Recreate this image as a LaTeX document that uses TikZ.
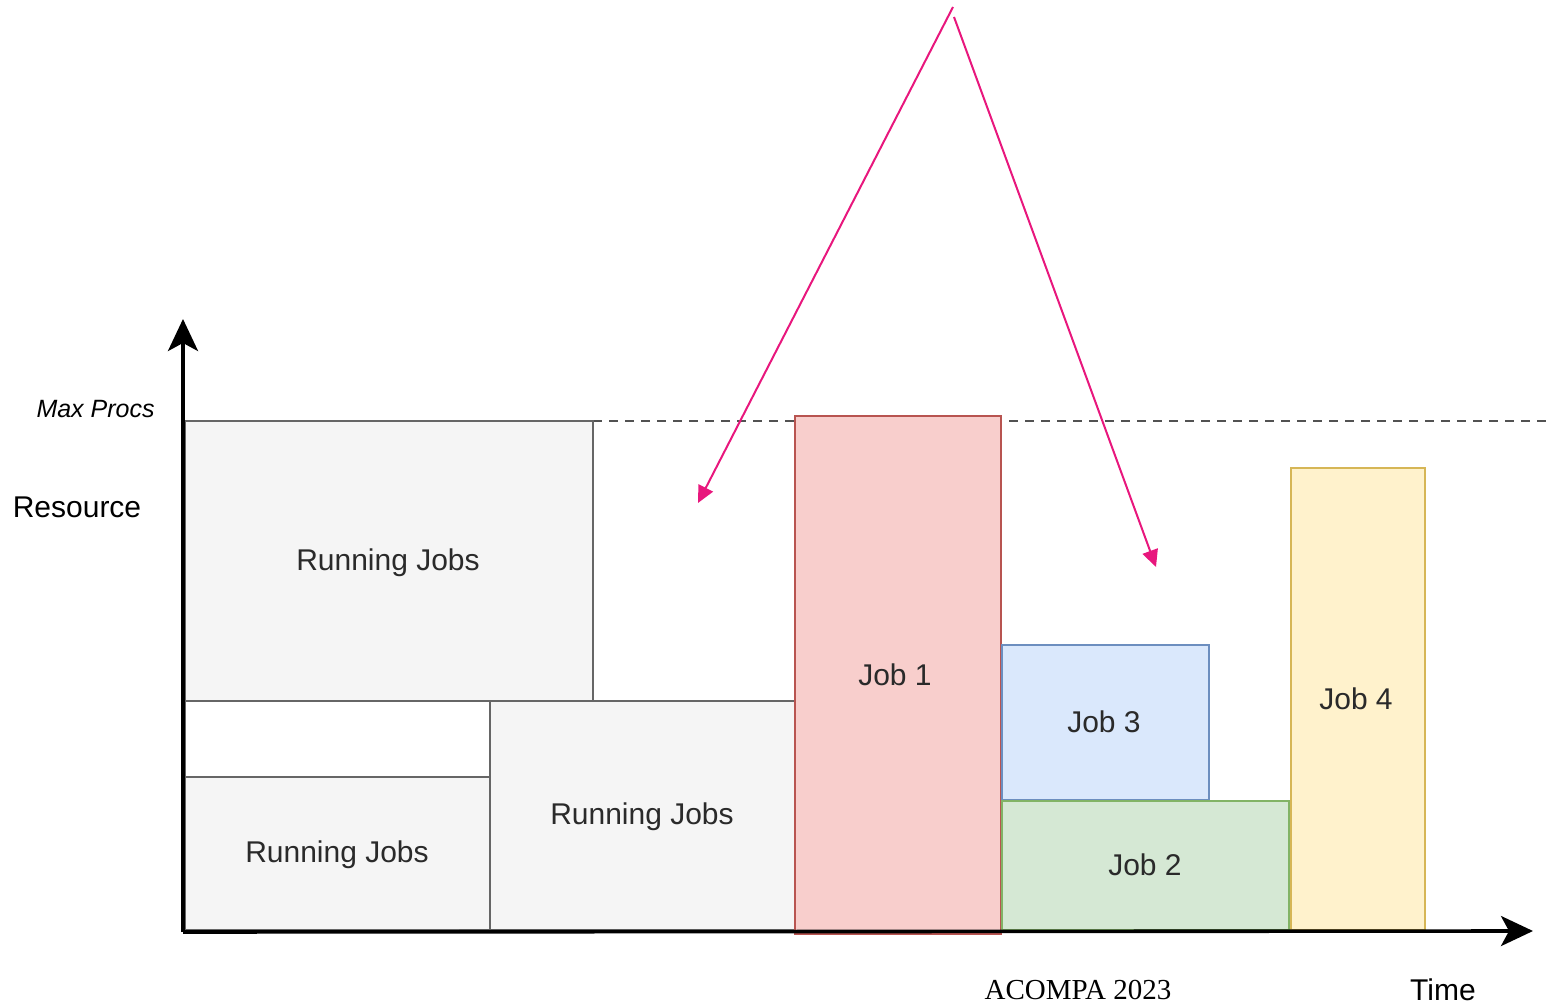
\documentclass[tikz,border=0pt]{standalone}
\usepackage{fontspec}
\setmainfont{Liberation Sans}
\newfontfamily\serifone{Liberation Serif}
\usetikzlibrary{arrows.meta,fit}
\definecolor{rjfill}{HTML}{F5F5F5}
\definecolor{rjdraw}{HTML}{666666}
\definecolor{j1fill}{HTML}{F8CECC}
\definecolor{j1draw}{HTML}{B85450}
\definecolor{j2fill}{HTML}{D5E8D4}
\definecolor{j2draw}{HTML}{82B366}
\definecolor{j3fill}{HTML}{DAE8FC}
\definecolor{j3draw}{HTML}{6C8EBF}
\definecolor{j4fill}{HTML}{FFF2CC}
\definecolor{j4draw}{HTML}{D6B656}
\definecolor{pinkline}{HTML}{E8177D}
\definecolor{txtgrey}{HTML}{2A2A2A}
\tikzset{
  jobbox/.style={inner sep=0pt, line width=1pt},
  boxtext/.style={inner sep=0pt, text=txtgrey, font=\fontsize{15}{18}\selectfont},
  axisline/.style={line width=1.8pt, -{Stealth[length=16pt,width=15pt,inset=4pt]}},
  pointer/.style={draw=pinkline, line width=1pt, -{Triangle[length=8.5pt,width=8pt]}, pinkline},
  maxline/.style={draw=rjdraw!80!black, line width=0.9pt, dash pattern=on 4.5pt off 3.5pt},
  lbl/.style={inner sep=0pt, font=\fontsize{15}{18}\selectfont}
}
\begin{document}
\begin{tikzpicture}[x=0.5pt,y=-0.5pt]
\useasboundingbox (0,0) rectangle (1553,1005);
% dashed max line
\coordinate (d1) at (593,421);
\coordinate (d2) at (1553,421);
\draw[maxline] (d1) -- (d2);
% running jobs
\node[jobbox, draw=rjdraw, fill=rjfill, fit={(185,421)(593,701)}] (rj1) {};
\node[jobbox, draw=rjdraw, fill=rjfill, fit={(185,777)(490,930)}] (rj2) {};
\node[jobbox, draw=rjdraw, fill=rjfill, fit={(490,701)(795,930)}] (rj3) {};
\node[jobbox, draw=rjdraw, fit={(185,701)(490,777)}] (gap) {};
% jobs
\node[jobbox, draw=j1draw, fill=j1fill, fit={(795,416)(1001,934)}] (job1) {};
\node[jobbox, draw=j3draw, fill=j3fill, fit={(1002,645)(1209,800)}] (job3) {};
\node[jobbox, draw=j2draw, fill=j2fill, fit={(1002,801)(1289,930)}] (job2) {};
\node[jobbox, draw=j4draw, fill=j4fill, fit={(1291,468)(1425,930)}] (job4) {};
% box texts
\node[boxtext] (rj1t) at (388,563) {Running Jobs};
\node[boxtext] (rj2t) at (337,855) {Running Jobs};
\node[boxtext] (rj3t) at (642,817) {Running Jobs};
\node[boxtext] (job1t) at (895,675) {Job 1};
\node[boxtext] (job3t) at (1104,722) {Job 3};
\node[boxtext] (job2t) at (1145,865) {Job 2};
\node[boxtext] (job4t) at (1356,699) {Job 4};
% axes
\coordinate (o) at (183,932);
\coordinate (ytip) at (183,319);
\coordinate (xtip) at (1533,931);
\draw[axisline] (o) -- (ytip);
\draw[axisline] (o) -- (xtip);
% labels
\node[lbl, anchor=east, font=\fontsize{12.5}{15}\selectfont\itshape] (maxp) at (155,409) {Max Procs};
\node[lbl] (res) at (77,507) {Resource};
\node[lbl] (time) at (1443,990) {Time};
\node[lbl, font=\fontsize{14.5}{17}\selectfont\serifone] (acompa) at (1078,990) {ACOMPA 2023};
% pointers
\coordinate (s1) at (953,7);
\coordinate (s2) at (954,17);
\coordinate (t1) at (698,503);
\coordinate (t2) at (1156,567);
\draw[pointer] (s1) -- (t1);
\draw[pointer] (s2) -- (t2);
\end{tikzpicture}
\end{document}
